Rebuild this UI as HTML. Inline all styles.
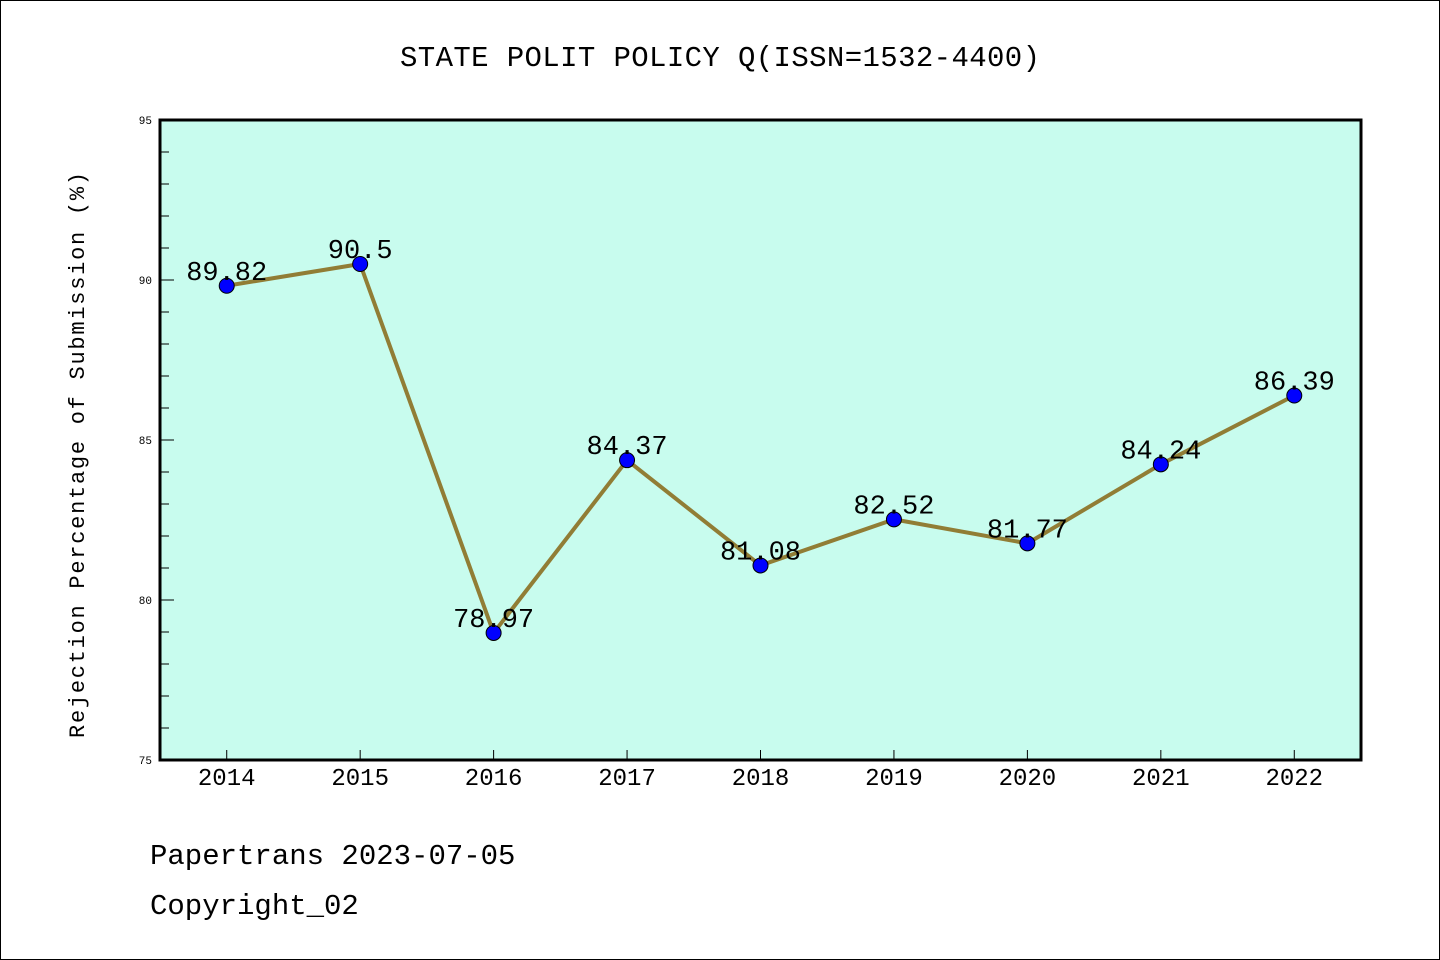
<!DOCTYPE html>
<html><head><meta charset="utf-8"><style>
html,body{margin:0;padding:0;background:#fff}
svg{display:block;font-family:"WenQuanYi Zen Hei Mono","WenQuanYi Zen Hei","Liberation Mono",monospace}
</style></head><body>
<svg id="chart" width="1440" height="960" viewBox="0 0 1440 960" xmlns="http://www.w3.org/2000/svg">
<rect x="0.5" y="0.5" width="1439" height="959" fill="#fff" stroke="#000" stroke-width="1"/>
<text x="720" y="66" font-size="29" text-anchor="middle" textLength="640">STATE POLIT POLICY Q(ISSN=1532-4400)</text>
<rect x="160" y="120" width="1201" height="640" fill="#c8fcee"/>
<g id="axes"></g>
<g id="series"></g>
<rect x="160" y="120" width="1201" height="640" fill="none" stroke="#000" stroke-width="3"/>
<text transform="translate(84,455) rotate(-90)" font-size="22" text-anchor="middle" textLength="566">Rejection Percentage of Submission (%)</text>
<text x="150" y="864" font-size="29">Papertrans 2023-07-05</text>
<text x="150" y="914" font-size="29">Copyright_02</text>
</svg>
<script>
const years = ["2014","2015","2016","2017","2018","2019","2020","2021","2022"];
const values = [89.82, 90.5, 78.97, 84.37, 81.08, 82.52, 81.77, 84.24, 86.39];
const valueLabels = ["89.82","90.5","78.97","84.37","81.08","82.52","81.77","84.24","86.39"];
const yTicks = [75, 80, 85, 90, 95];

const NS = "http://www.w3.org/2000/svg";
const X0 = 160, X1 = 1361, Y0 = 760, Y1 = 120, YMIN = 75, YMAX = 95;
function xs(i){ return X0 + (i + 0.5) * (X1 - X0) / years.length; }
function ys(v){ return Y0 - (v - YMIN) * (Y0 - Y1) / (YMAX - YMIN); }
function mk(tag, attrs, parent, txt){
  const e = document.createElementNS(NS, tag);
  for (const k in attrs) e.setAttribute(k, attrs[k]);
  if (txt !== undefined) e.textContent = txt;
  parent.appendChild(e); return e;
}
const axes = document.getElementById('axes');
for (let v = YMIN; v <= YMAX; v++) {
  const major = v % 5 === 0;
  const t = mk('line', {x1: X0, x2: X0 + (major ? 14 : 9), y1: ys(v), y2: ys(v), stroke: '#000', 'stroke-width': 1}, axes);
  
  
}
yTicks.forEach(v => {
  const t = mk('text', {x: 152, y: ys(v) + 4, 'font-size': 11, 'text-anchor': 'end'}, axes, String(v));
  
  
});
years.forEach((y, i) => {
  const tk = mk('line', {x1: xs(i), x2: xs(i), y1: Y0, y2: Y0 - 10, stroke: '#000', 'stroke-width': 1}, axes);
  
  
  const t = mk('text', {x: xs(i), y: 785, 'font-size': 24, 'text-anchor': 'middle'}, axes, y);
  
  
});
const g = document.getElementById('series');
const pts = values.map((v, i) => xs(i) + ',' + ys(v)).join(' ');
const pl = mk('polyline', {points: pts, fill: 'none', stroke: '#917d35', 'stroke-width': 4, 'stroke-linejoin': 'round'}, g);


values.forEach((v, i) => {
  const c = mk('circle', {cx: xs(i), cy: ys(v), r: 7.5, fill: '#0000ff', stroke: '#000', 'stroke-width': 1}, g);
  
  
});
values.forEach((v, i) => {
  const t = mk('text', {x: xs(i), y: ys(v) - 6, 'font-size': 27, 'text-anchor': 'middle'}, g, valueLabels[i]);
  
  
});
</script>
</body></html>
